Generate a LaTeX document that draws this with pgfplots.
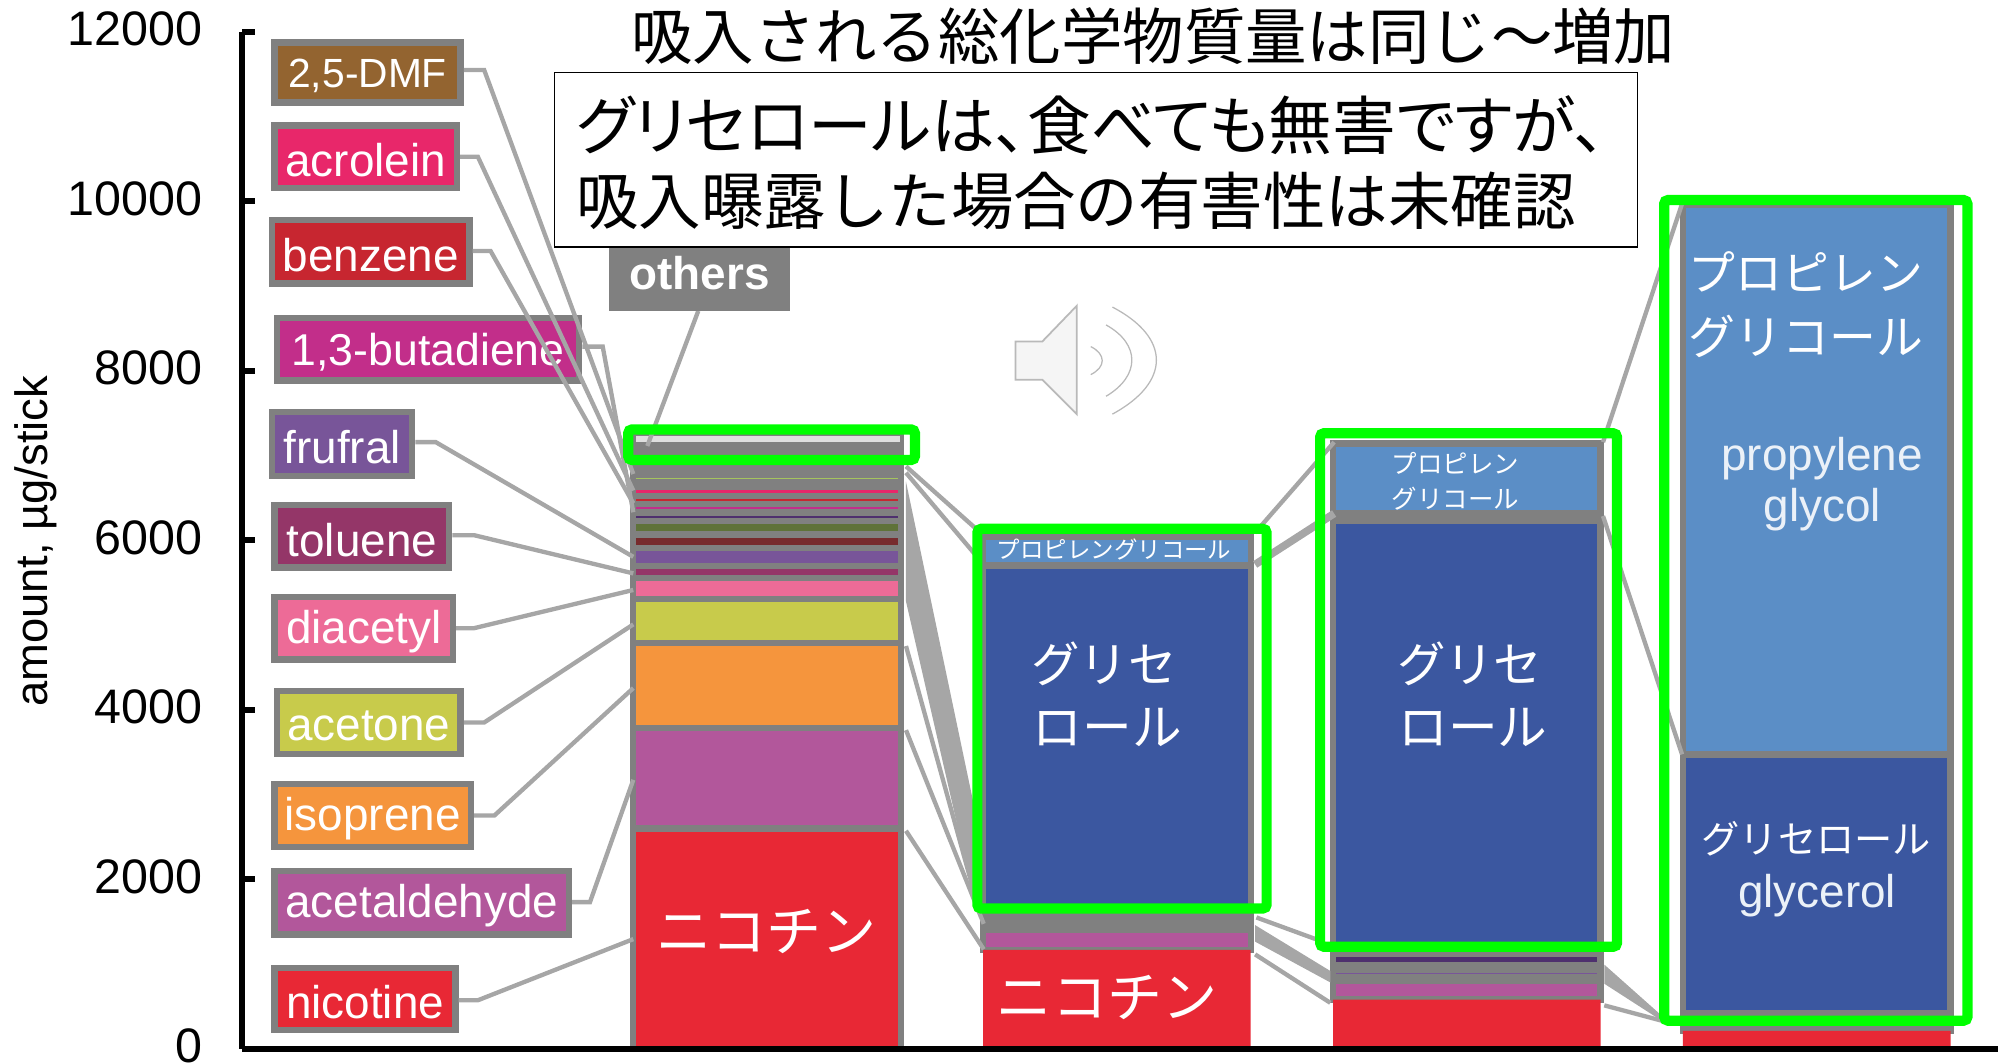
\documentclass[border=0pt]{standalone}
\usepackage{pgfplots}
\usepackage{pgfplotstable}
\usepackage{fontspec}
\pgfplotsset{compat=1.18}
\setmainfont{Liberation Sans}
\newfontfamily\cjk{Noto Sans CJK JP}
\newfontfamily\cjkp[RawFeature=+palt]{Noto Sans CJK JP}

\definecolor{cEdge}{HTML}{808080}
\definecolor{cLeader}{HTML}{A6A6A6}
\definecolor{cFrame}{HTML}{00FF00}
\definecolor{cNic}{HTML}{E82835}
\definecolor{cAcet}{HTML}{B2579B}
\definecolor{cIso}{HTML}{F5953D}
\definecolor{cAcetone}{HTML}{C8CB4B}
\definecolor{cDia}{HTML}{ED6B97}
\definecolor{cTol}{HTML}{943668}
\definecolor{cFru}{HTML}{785599}
\definecolor{cDkRed}{HTML}{772B2D}
\definecolor{cOlive}{HTML}{5F7239}
\definecolor{cDkPur}{HTML}{4E2F6E}
\definecolor{cBut}{HTML}{C22E8A}
\definecolor{cBenz}{HTML}{C72630}
\definecolor{cAcro}{HTML}{E8276A}
\definecolor{cLtGreen}{HTML}{A5C45E}
\definecolor{cDmf}{HTML}{936430}
\definecolor{cGly}{HTML}{3B57A0}
\definecolor{cPg}{HTML}{5B8EC6}

% amount per stick, one row per bar, bottom to top; gapA/gapB/gapC/gapD are unlabelled grey compounds
\pgfplotstableread{
bar nicA nic  acet gapA iso acetone dia tol fru gapB dkred olive dkpur but benz acro gapC ltgr others gly  gapD pg
0   2600 0    1187 0    998 520     248 146 208 0    159   161   100   102 97   101  55   93   458    0    0    0
1   0    1165 233  0    0   0       0   0   0   0    0     0     0     0   0    0    0    0    271    4035 0    341
2   0    580  220  42   0   0       0   0   90  53   0     0     135   0   0    0    0    0    90     5023 90   820
3   0    210  0    0    0   0       0   0   0   0    0     0     0     0   0    0    0    0    211    3053 0    6481
}\chem

\newcommand\labelbox[6]{% x1 y1 x2 y2 colour text
  \draw[draw=cEdge,line width=2.5pt,fill=#5] (#1+2.5,#2+2.5) rectangle (#3-2.5,#4-2.5);
  \node[text=white,font=\fontsize{18}{18}\selectfont,inner sep=0pt] at ({(#1+#3)/2},{(#2+#4)/2+2.5}) {#6};}
\newcommand\jp[4]{% left x, centre y, size, text
  \node[text=white,anchor=west,inner sep=0pt,font=\cjk\fontsize{#3}{#3}\selectfont] at (#1,#2) {#4};}
\newcommand\en[3]{% centre x, centre y, text
  \node[text=white!88!cPg,inner sep=0pt,font=\fontsize{18}{18}\selectfont] at (#1,#2) {#3};}

\begin{document}
\begin{tikzpicture}
\useasboundingbox (-95pt,-6pt) rectangle (689pt,411.5pt);
\begin{axis}[
  at={(0,0)},anchor=south west,
  scale only axis,width=689pt,height=399pt,
  xmin=-1.5,xmax=3.518,ymin=0,ymax=12000,
  ybar stacked,bar width=105pt,
  axis y line=left,axis x line=bottom,
  axis line style={-,line width=2.4pt,black},
  axis on top,
  xtick=\empty,
  ytick={0,2000,4000,6000,8000,10000,12000},
  scaled y ticks=false,
  tick style={line width=2.4pt,black},
  tick align=inside,major tick length=5pt,
  /pgf/number format/assume math mode=true,
  /pgf/number format/set thousands separator={},
  yticklabel style={font=\fontsize{19}{19}\selectfont,xshift=-12pt,yshift=1pt},
  ylabel={amount, µg/stick},
  every axis y label/.style={at={(axis description cs:-0.1176,0.499)},rotate=90,anchor=center},
  ylabel style={font=\fontsize{17.8}{18}\selectfont},
]
\addplot[fill=cNic,draw=cEdge,line width=2.5pt] table[x=bar,y=nicA]{\chem};
\addplot[fill=cNic,draw=none] table[x=bar,y=nic]{\chem};
\addplot[fill=cAcet,draw=cEdge,line width=2.5pt] table[x=bar,y=acet]{\chem};
\addplot[fill=cEdge,draw=cEdge,line width=2.5pt] table[x=bar,y=gapA]{\chem};
\addplot[fill=cIso,draw=cEdge,line width=2.5pt] table[x=bar,y=iso]{\chem};
\addplot[fill=cAcetone,draw=cEdge,line width=2.5pt] table[x=bar,y=acetone]{\chem};
\addplot[fill=cDia,draw=cEdge,line width=2.5pt] table[x=bar,y=dia]{\chem};
\addplot[fill=cTol,draw=cEdge,line width=2.5pt] table[x=bar,y=tol]{\chem};
\addplot[fill=cFru,draw=cEdge,line width=2.5pt] table[x=bar,y=fru]{\chem};
\addplot[fill=cEdge,draw=cEdge,line width=2.5pt] table[x=bar,y=gapB]{\chem};
\addplot[fill=cDkRed,draw=cEdge,line width=2.5pt] table[x=bar,y=dkred]{\chem};
\addplot[fill=cOlive,draw=cEdge,line width=2.5pt] table[x=bar,y=olive]{\chem};
\addplot[fill=cDkPur,draw=cEdge,line width=2.5pt] table[x=bar,y=dkpur]{\chem};
\addplot[fill=cBut,draw=cEdge,line width=2.5pt] table[x=bar,y=but]{\chem};
\addplot[fill=cBenz,draw=cEdge,line width=2.5pt] table[x=bar,y=benz]{\chem};
\addplot[fill=cAcro,draw=cEdge,line width=2.5pt] table[x=bar,y=acro]{\chem};
\addplot[fill=cEdge,draw=cEdge,line width=2.5pt] table[x=bar,y=gapC]{\chem};
\addplot[fill=cLtGreen,draw=cEdge,line width=2.5pt] table[x=bar,y=ltgr]{\chem};
\addplot[fill=cEdge,draw=cEdge,line width=2.5pt] table[x=bar,y=others]{\chem};
\addplot[fill=cGly,draw=cEdge,line width=2.5pt] table[x=bar,y=gly]{\chem};
\addplot[fill=cEdge,draw=cEdge,line width=2.5pt] table[x=bar,y=gapD]{\chem};
\addplot[fill=cPg,draw=cEdge,line width=2.5pt] table[x=bar,y=pg]{\chem};
\end{axis}

% annotations, in pixels of the 1568x835 view (y downwards)
\begin{scope}[shift={(-95pt,411.5pt)},x=.5pt,y=-.5pt]
\fill[gray!25] (499,342) rectangle (706,347);

% label boxes
\labelbox{213}{31}{364}{83}{cDmf}{\fontsize{16}{16}\selectfont 2,5-DMF}
\labelbox{213}{96}{361}{150}{cAcro}{acrolein}
\labelbox{211}{170}{371}{225}{cBenz}{benzene}
\labelbox{215}{247}{457}{301}{cBut}{\fontsize{17.5}{18}\selectfont 1,3-butadiene}
\labelbox{211}{321}{326}{376}{cFru}{frufral}
\labelbox{213}{394}{355}{448}{cTol}{toluene}
\labelbox{213}{466}{358}{520}{cDia}{diacetyl}
\labelbox{215}{540}{364}{594}{cAcetone}{acetone}
\labelbox{213}{613}{372}{667}{cIso}{isoprene}
\labelbox{213}{681}{449}{736}{cAcet}{acetaldehyde}
\labelbox{213}{757}{360}{811}{cNic}{nicotine}

% leaders
\begin{scope}[draw=cLeader,fill=cLeader,line width=1.7pt]
\draw (364,55)--(380,55)--(497,372);
\draw (361,123)--(375,123)--(497,385);
\draw (371,197)--(385,197)--(497,395);
\draw (457,272)--(473,272)--(497,402);
\draw (326,347)--(342,347)--(497,437);
\draw (355,420)--(372,420)--(497,450);
\draw (358,493)--(372,493)--(497,463);
\draw (364,567)--(380,567)--(497,490);
\draw (372,640)--(388,640)--(497,540);
\draw (449,708)--(463,708)--(497,612);
\draw (360,785)--(375,785)--(497,737);
\draw (508,350)--(548,244);
% bar 1 to bar 2
\draw (711,366)--(766,415);
\draw (711,371)--(766,436);
\fill (711,378)--(711,472)--(766,712)--(766,640)--cycle;
\draw (711,507)--(766,706);
\draw (711,573)--(772,725);
\draw (711,652)--(772,745);
% bar 2 to bar 3
\draw (985,418)--(1047,347);
\draw[line width=3pt] (985,443)--(1047,403);
\draw (986,720)--(1038,739);
\fill (985,726)--(985,739)--(1044,771)--(1044,762)--cycle;
\draw (985,749)--(1044,787);
% bar 3 to bar 4
\draw (1258,347)--(1320,160);
\draw (1258,405)--(1320,592);
\fill (1259,757)--(1259,772)--(1304,801)--(1304,797)--cycle;
\draw (1259,789)--(1304,801);
\end{scope}

% others label and text box
\fill[cEdge] (478,190) rectangle (620,244);
\node[text=white,font=\bfseries\fontsize{18}{18}\selectfont] at (549,214) {others};
\draw[fill=white,line width=.6pt] (435,57) rectangle (1285,194);
\node[anchor=west,inner sep=0pt,font=\cjk\fontsize{24.1}{24}\selectfont] at (495,28) {吸入される総化学物質量は同じ～増加};
\node[anchor=west,inner sep=0pt,font=\cjkp\fontsize{25}{25}\selectfont] at (452,98) {グリセロールは、食べても無害ですが、};
\node[anchor=west,inner sep=0pt,font=\cjk\fontsize{24.5}{24.5}\selectfont] at (452,158) {吸入曝露した場合の有害性は未確認};

% speaker icon
\draw[fill=gray!8,draw=gray!55,line width=.7pt] (797,268)--(818,268)--(845,240)--(845,325)--(818,298)--(797,298)--cycle;
\begin{scope}[draw=gray!55,line width=.5pt,double=white,double distance=1pt]
\draw (856,272) .. controls (868,278) and (868,288) .. (856,294);
\draw (868,255) .. controls (895,270) and (895,295) .. (868,311);
\draw (873,241) .. controls (919,265) and (919,300) .. (873,325);
\end{scope}

% green frames
\begin{scope}[draw=cFrame,line width=4pt,rounded corners=1.5pt]
\draw (493,337) rectangle (718,361);
\draw (767,415) rectangle (994,713);
\draw (1036,340) rectangle (1269,743);
\draw (1306,157) rectangle (1544,801);
\end{scope}

% text on the bars
\jp{515}{731}{21.6}{ニコチン}
\jp{782}{783}{21.6}{ニコチン}
\jp{782}{431}{9.2}{プロピレングリコール}
\jp{809}{521}{19}{グリセ}
\jp{810}{571}{19.5}{ロール}
\jp{1096}{521}{19}{グリセ}
\jp{1097}{571}{19.5}{ロール}
\jp{1092}{364}{10}{プロピレン}
\jp{1092}{391}{10}{グリコール}
\jp{1325}{213}{18.4}{プロピレン}
\jp{1325}{264}{18.4}{グリコール}
\en{1430}{360}{propylene}
\en{1430}{400}{glycol}
\jp{1335}{658}{15}{グリセロール}
\en{1426}{703}{glycerol}
\end{scope}
\end{tikzpicture}
\end{document}
